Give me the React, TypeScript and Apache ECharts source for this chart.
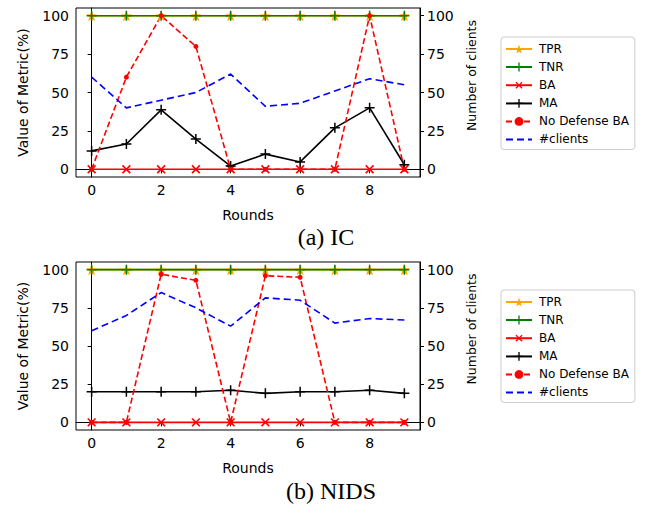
import React, { useEffect, useRef } from "react";
import * as echarts from "echarts";

// ---- Data ----
const rounds = [0, 1, 2, 3, 4, 5, 6, 7, 8, 9];
const xTicks = [0, 2, 4, 6, 8];
const yTicks = [0, 25, 50, 75, 100];

// (a) IC
const icTPR = [100, 100, 100, 100, 100, 100, 100, 100, 100, 100];
const icTNR = [100, 100, 100, 100, 100, 100, 100, 100, 100, 100];
const icBA = [0, 0, 0, 0, 0, 0, 0, 0, 0, 0];
const icMA = [12, 16.5, 38.7, 19.7, 2.1, 9.9, 4.8, 27, 40, 3];
const icNoDefBA = [0, 60, 100, 80, 0, 0, 0, 0, 100, 0];
const icClients = [60, 40, 45, 50, 62, 41, 43, 51, 59, 55];

// (b) NIDS
const nidsTPR = [100, 100, 100, 100, 100, 100, 100, 100, 100, 100];
const nidsTNR = [100, 100, 100, 100, 100, 100, 100, 100, 100, 100];
const nidsBA = [0, 0, 0, 0, 0, 0, 0, 0, 0, 0];
const nidsMA = [20, 20, 20, 20, 21, 19, 20, 20, 21, 19];
const nidsNoDefBA = [0, 0, 97, 93, 0, 96, 95, 0, 0, 0];
const nidsClients = [60, 70, 85, 75, 63, 81.5, 80, 65, 68, 67];

const captions = ["(a) IC", "(b) NIDS"];
const seriesNames = ["TPR", "TNR", "BA", "MA", "No Defense BA", "#clients"];

// ---- Marker shapes ----
const PLUS =
  "path://M-0.75,-5L0.75,-5L0.75,-0.75L5,-0.75L5,0.75L0.75,0.75L0.75,5L-0.75,5L-0.75,0.75L-5,0.75L-5,-0.75L-0.75,-0.75Z";
const STAR =
  "path://M0,-5L1.176,-1.618L4.755,-1.545L1.902,0.618L2.939,4.045L0,2L-2.939,4.045L-1.902,0.618L-4.755,-1.545L-1.176,-1.618Z";

const FONT = "DejaVu Sans";

const pts = (ys: number[]) => rounds.map((x, i) => [x, ys[i]]);

function buildSeries(gi: number, d: number[][]) {
  const [tpr, tnr, ba, ma, nd, cl] = d;
  const base = { type: "line", xAxisIndex: gi, yAxisIndex: gi * 2, showSymbol: true };
  return [
    {
      ...base,
      name: seriesNames[0],
      data: pts(tpr),
      symbol: STAR,
      symbolSize: 11,
      lineStyle: { color: "#FFA500", width: 1.6 },
      itemStyle: { color: "#FFA500" },
    },
    {
      ...base,
      name: seriesNames[1],
      data: pts(tnr),
      symbol: PLUS,
      symbolSize: 10,
      lineStyle: { color: "#008000", width: 1.6 },
      itemStyle: { color: "#008000" },
    },
    {
      ...base,
      name: seriesNames[2],
      data: pts(ba),
      symbol: PLUS,
      symbolRotate: 45,
      symbolSize: 11,
      lineStyle: { color: "#FF0000", width: 1.6 },
      itemStyle: { color: "#FF0000" },
    },
    {
      ...base,
      name: seriesNames[3],
      data: pts(ma),
      symbol: PLUS,
      symbolSize: 10,
      lineStyle: { color: "#000000", width: 1.6 },
      itemStyle: { color: "#000000" },
    },
    {
      ...base,
      name: seriesNames[4],
      data: pts(nd),
      symbol: "circle",
      symbolSize: 5,
      lineStyle: { color: "#FF0000", width: 1.6, type: [6, 3] },
      itemStyle: { color: "#FF0000", borderWidth: 0 },
    },
    {
      ...base,
      yAxisIndex: gi * 2 + 1,
      name: seriesNames[5],
      data: pts(cl),
      symbol: "none",
      lineStyle: { color: "#0000FF", width: 1.6, type: [7, 4] },
      itemStyle: { color: "#0000FF" },
    },
  ];
}

const tickLabel = { fontFamily: FONT, fontSize: 14, color: "#000" };

function xAxis(gi: number) {
  return {
    type: "value",
    gridIndex: gi,
    min: -0.45,
    max: 9.45,
    name: "Rounds",
    nameLocation: "middle",
    nameGap: 31,
    nameTextStyle: { fontFamily: FONT, fontSize: 14, color: "#000" },
    axisLine: { show: true, lineStyle: { color: "#000", width: 1 } },
    axisTick: { show: true, length: 4, customValues: xTicks, lineStyle: { color: "#000" } },
    axisLabel: { ...tickLabel, margin: 6, customValues: xTicks },
    splitLine: { show: false },
  };
}

function yAxes(gi: number) {
  const common = {
    type: "value",
    gridIndex: gi,
    min: -5,
    max: 105,
    nameLocation: "middle",
    axisLine: { show: true, lineStyle: { color: "#000", width: 1 } },
    axisTick: { show: true, length: 4, customValues: yTicks, lineStyle: { color: "#000" } },
    splitLine: { show: false },
  };
  return [
    {
      ...common,
      position: "left",
      name: "Value of Metric(%)",
      nameGap: 46,
      nameTextStyle: { fontFamily: FONT, fontSize: 14, color: "#000" },
      axisLabel: { ...tickLabel, margin: 7, customValues: yTicks },
    },
    {
      ...common,
      position: "right",
      name: "Number of clients",
      nameGap: 44,
      nameTextStyle: { fontFamily: FONT, fontSize: 12.5, color: "#000", padding: [0, 0, 0, 34] },
      axisLabel: { ...tickLabel, margin: 7, customValues: yTicks },
    },
  ];
}

function legend(top: number) {
  return {
    orient: "vertical",
    left: 501,
    top,
    width: 136,
    itemWidth: 26,
    itemHeight: 11,
    itemGap: 6,
    padding: [6, 6, 4, 4],
    borderColor: "#cccccc",
    borderWidth: 1,
    borderRadius: 3,
    backgroundColor: "#fff",
    textStyle: { fontFamily: FONT, fontSize: 12, color: "#000", padding: [0, 0, 0, 2] },
    data: seriesNames.map((n) =>
      n === "#clients" ? { name: n, itemStyle: { opacity: 0 } } : n === "No Defense BA" ? { name: n, symbolSize: 6 } : n
    ),
    selectedMode: false,
  };
}

export default function App() {
  const ref = useRef<HTMLDivElement>(null);
  useEffect(() => {
    if (!ref.current) return;
    const chart = echarts.init(ref.current, undefined, { renderer: "svg" });
    const option = {
      animation: false,
      backgroundColor: "#fff",
      grid: [
        { left: 76, top: 8, width: 344, height: 169, show: true, borderColor: "#000", borderWidth: 1, backgroundColor: "transparent" },
        { left: 76, top: 262, width: 344, height: 168, show: true, borderColor: "#000", borderWidth: 1, backgroundColor: "transparent" },
      ],
      xAxis: [xAxis(0), xAxis(1)],
      yAxis: [...yAxes(0), ...yAxes(1)],
      legend: [legend(37), legend(290)],
      series: [
        ...buildSeries(0, [icTPR, icTNR, icBA, icMA, icNoDefBA, icClients]),
        ...buildSeries(1, [nidsTPR, nidsTNR, nidsBA, nidsMA, nidsNoDefBA, nidsClients]),
      ],
      graphic: [
        {
          type: "text",
          x: 326,
          y: 237,
          style: { text: captions[0], font: "24px 'Liberation Serif'", fill: "#000", textAlign: "center", textVerticalAlign: "middle" },
        },
        {
          type: "text",
          x: 331,
          y: 491,
          style: { text: captions[1], font: "24px 'Liberation Serif'", fill: "#000", textAlign: "center", textVerticalAlign: "middle" },
        },
      ],
    };
    chart.setOption(option as any);
    return () => chart.dispose();
  }, []);
  return (
    <div
      ref={ref}
      style={{ position: "fixed", left: 0, top: 0, width: 646, height: 507, background: "#fff" }}
    />
  );
}
